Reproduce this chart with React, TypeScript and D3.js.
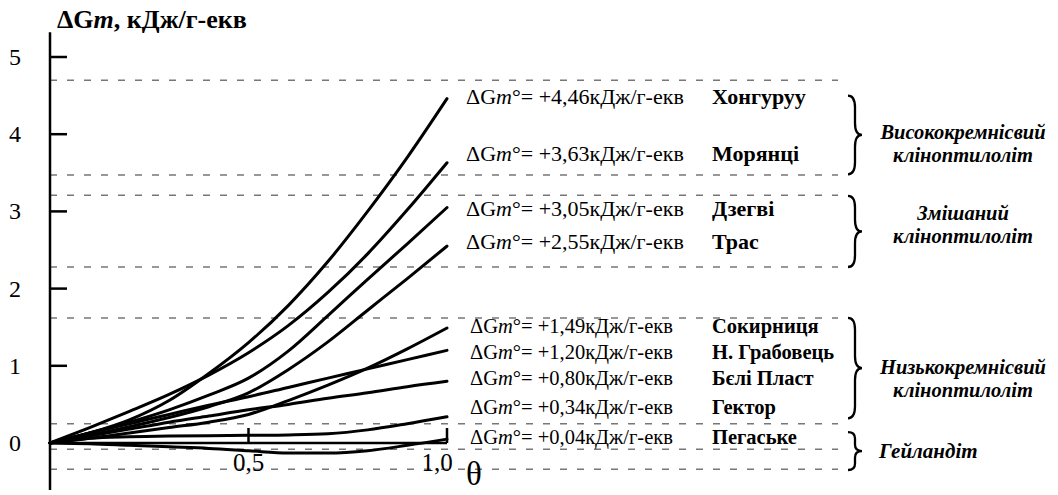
import * as d3 from "d3";

// θ grid and ΔGm curves (кДж/г-екв)
const thetas = [0, 0.1, 0.2, 0.3, 0.4, 0.5, 0.6, 0.7, 0.8, 0.9, 1.0];

const khonhuruu = [0, 0.13, 0.3, 0.55, 0.9, 1.3, 1.78, 2.35, 3.0, 3.7, 4.46];
const moryantsi = [0, 0.2, 0.41, 0.63, 0.88, 1.17, 1.52, 1.95, 2.45, 3.02, 3.63];
const dzehvi = [0, 0.13, 0.27, 0.43, 0.62, 0.84, 1.19, 1.65, 2.12, 2.58, 3.05];
const tras = [0, 0.1, 0.21, 0.33, 0.47, 0.65, 0.95, 1.31, 1.72, 2.13, 2.55];
const sokyrnytsia = [0, 0.06, 0.13, 0.2, 0.27, 0.37, 0.55, 0.75, 0.97, 1.22, 1.49];
const nHrabovets = [0, 0.13, 0.25, 0.37, 0.49, 0.6, 0.72, 0.84, 0.96, 1.08, 1.2];
const beliPlast = [0, 0.09, 0.18, 0.27, 0.35, 0.43, 0.5, 0.58, 0.65, 0.73, 0.8];
const hektor = [0, 0.06, 0.08, 0.09, 0.095, 0.1, 0.105, 0.12, 0.17, 0.25, 0.34];
const pehaske = [0, -0.01, -0.03, -0.05, -0.07, -0.1, -0.13, -0.13, -0.1, -0.03, 0.05];

const series = [khonhuruu, moryantsi, dzehvi, tras, sokyrnytsia, nHrabovets, beliPlast, hektor, pehaske];

// legend rows
const names = ["Хонгуруу", "Морянці", "Дзегві", "Трас", "Сокирниця", "Н. Грабовець", "Бєлі Пласт", "Гектор", "Пегаське"];
const dgValues = ["+4,46", "+3,63", "+3,05", "+2,55", "+1,49", "+1,20", "+0,80", "+0,34", "+0,04"];
const rowLevels = [4.47, 3.73, 3.02, 2.59, 1.5, 1.17, 0.83, 0.45, 0.06];

// dashed guide levels
const dashLevels = [4.7, 3.47, 3.21, 2.28, 1.62, 0.25, -0.08, -0.34];

// groups on the right
const groupLines = [
  ["Висококремнісвий", "клінoптилоліт"],
  ["Змішаний", "клінoптилоліт"],
  ["Низькокремнісвий", "клінoптилоліт"],
  ["Гейландіт"],
];
const groupSpans = [[4.5, 3.48], [3.2, 2.28], [1.62, 0.32], [0.14, -0.35]];
const groupLabelLevels = [4.02, 2.97, 0.97, -0.1];

const yTicks = [0, 1, 2, 3, 4, 5];
const xTicks = [0.5, 1.0];
const xTickLabels = ["0,5", "1,0"];

const W = 1058;
const H = 495;
const FONT = "Liberation Serif";

function bracePath(x: number, top: number, bottom: number, w: number) {
  const mid = (top + bottom) / 2;
  const h = w / 2;
  const q = Math.min(12, (bottom - top) / 6);
  return `M${x},${top} Q${x + h},${top} ${x + h},${top + q} L${x + h},${mid - q} Q${x + h},${mid} ${x + w},${mid}` +
    ` Q${x + h},${mid} ${x + h},${mid + q} L${x + h},${bottom - q} Q${x + h},${bottom} ${x},${bottom}`;
}

export default function App() {
  const x = d3.scaleLinear().domain([0, 1]).range([50, 447]);
  const y = d3.scaleLinear().domain([0, 5]).range([443, 57]);

  const line = d3
    .line<number>()
    .x((d, i) => x(thetas[i]))
    .y((d) => y(d))
    .curve(d3.curveMonotoneX);

  return (
    <svg width={W} height={H} style={{ position: "absolute", left: 0, top: 0, background: "#fff" }}>
      <g fontFamily={FONT}>
        {/* title */}
        <text x={57} y={28} fontSize={26} fontWeight="bold" fontFamily={FONT}>
          <tspan>ΔG</tspan>
          <tspan fontStyle="italic">m</tspan>
          <tspan>, кДж/г-екв</tspan>
        </text>

        {/* dashed levels */}
        {dashLevels.map((v, i) => (
          <line key={i} x1={x(0)} x2={838} y1={y(v)} y2={y(v)} stroke="#777" strokeWidth={1.5} strokeDasharray="7 10" />
        ))}

        {/* y axis */}
        <line x1={x(0)} x2={x(0)} y1={y(5.32)} y2={y(-0.61)} stroke="#000" strokeWidth={2.5} />
        {yTicks.filter((t) => t > 0).map((t) => (
          <line key={t} x1={x(0)} x2={x(0) + 17} y1={y(t)} y2={y(t)} stroke="#000" strokeWidth={2.5} />
        ))}
        {yTicks.map((t) => (
          <text key={t} x={15} y={y(t) + 8} fontSize={24} textAnchor="middle" fontFamily={FONT}>{t}</text>
        ))}

        {/* x axis */}
        <line x1={x(0)} x2={x(1)} y1={y(0)} y2={y(0)} stroke="#000" strokeWidth={2.5} />
        {xTicks.map((t) => (
          <line key={t} x1={x(t)} x2={x(t)} y1={y(0)} y2={y(0) - 15} stroke="#000" strokeWidth={2.5} />
        ))}
        {xTicks.map((t, i) => (
          <text key={t} x={x(t) - (i === 1 ? 10 : 0)} y={471} fontSize={25} textAnchor="middle" fontFamily={FONT}>{xTickLabels[i]}</text>
        ))}
        <text x={474} y={485} fontSize={33} textAnchor="middle" fontFamily={FONT}>θ</text>

        {/* curves */}
        {series.map((s, i) => (
          <path key={i} d={line(s) ?? ""} fill="none" stroke="#000" strokeWidth={3} strokeLinecap="round" />
        ))}

        {/* legend rows */}
        {names.map((n, i) => (
          <g key={n} fontSize={i < 4 ? 22 : 20.5}>
            <text x={i < 4 ? 466 : 470} y={y(rowLevels[i]) + 6} fontFamily={FONT}>
              <tspan>ΔG</tspan>
              <tspan fontStyle="italic">m</tspan>
              <tspan>°= {dgValues[i]}кДж/г-екв</tspan>
            </text>
            <text x={712} y={y(rowLevels[i]) + 6} fontWeight="bold" fontFamily={FONT}>{n}</text>
          </g>
        ))}

        {/* groups */}
        {groupSpans.map((s, i) => {
          const top = y(s[0]);
          const bottom = y(s[1]);
          const ly = y(groupLabelLevels[i]);
          const lines = groupLines[i];
          return (
            <g key={i}>
              <path d={bracePath(848, top, bottom, 14)} fill="none" stroke="#000" strokeWidth={2.3} />
              {lines.length === 1 ? (
                <text x={879} y={ly + 7} fontSize={21} fontWeight="bold" fontStyle="italic" fontFamily={FONT}>{lines[0]}</text>
              ) : (
                lines.map((l, j) => (
                  <text key={j} x={963} y={ly + 6 + j * 23} fontSize={20.5} fontWeight="bold" fontStyle="italic" textAnchor="middle" fontFamily={FONT}>{l}</text>
                ))
              )}
            </g>
          );
        })}
      </g>
    </svg>
  );
}
